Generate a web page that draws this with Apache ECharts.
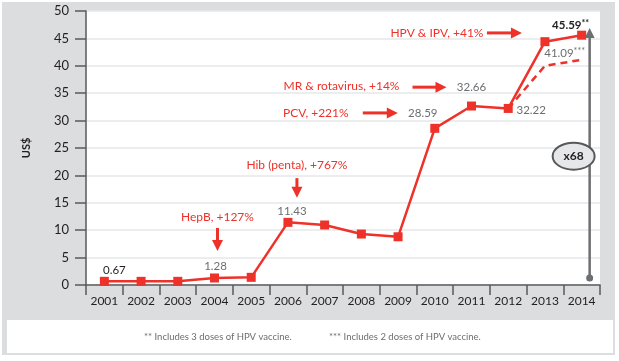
<!DOCTYPE html>
<html><head><meta charset="utf-8">
<script src="https://cdn.jsdelivr.net/npm/echarts@6/dist/echarts.min.js"></script>
<style>html,body{margin:0;padding:0;background:#fff}#c{width:619px;height:361px}</style>
</head><body><div id="c"></div>
<script>
const years = ['2001','2002','2003','2004','2005','2006','2007','2008','2009','2010','2011','2012','2013','2014'];
const costWith3DoseHPV = [0.67, 0.67, 0.67, 1.28, 1.4, 11.43, 10.95, 9.3, 8.8, 28.59, 32.66, 32.22, 44.4, 45.59];
const costWith2DoseHPV = [null, null, null, null, null, null, null, null, null, null, null, 32.22, 40.0, 41.09];
const yMin = 0, yMax = 50, yStep = 5;
const annotations = [
  {text: 'HepB, +127%', year: 3, dx: 3, v: 12.45, arrow: {dir: 'down', x: 3, from: 10.4, to: 6.2}},
  {text: 'Hib (penta), +767%', year: 5, dx: 9, v: 21.9, arrow: {dir: 'down', x: 9, from: 19.5, to: 15.9}},
  {text: 'PCV, +221%', year: 9, dx: -119, v: 31.4, arrow: {dir: 'right', from: -72, to: -37, v: 31.4}},
  {text: 'MR & rotavirus, +14%', year: 10, dx: -130, v: 36.3, arrow: {dir: 'right', from: -59, to: -25, v: 36.1}},
  {text: 'HPV & IPV, +41%', year: 12, dx: -108, v: 46.0, arrow: {dir: 'right', from: -58, to: -23, v: 46.0}}
];
const RED = '#ee3129', GRAY = '#6d6e71', DARK = '#231f20';
const FONT = 'Lato, "Open Sans", sans-serif';

// label offsets (pixels, relative to the point centre)
const labelCfg1 = {
  0: {off: [10, -11], color: DARK},
  3: {off: [1, -12], color: GRAY},
  5: {off: [4, -11], color: GRAY},
  9: {off: [-12, -15], color: GRAY},
  10: {off: [0, -19], color: GRAY},
  11: {off: [23, 2], color: GRAY},
  13: {off: [-11, -10], color: DARK, star: '**', bold: true}
};
const labelCfg2 = {13: {off: [-17, -7], color: GRAY, star: '***'}};

function buildData(vals, cfg) {
  return vals.map((v, i) => {
    const c = cfg[i];
    if (v == null) return null;
    if (!c) return {value: v};
    return {
      value: v,
      label: {
        show: true, position: 'inside', offset: c.off,
        formatter: '{a|' + v.toFixed(2) + '}' + (c.star ? '{b|' + c.star + '}' : ''),
        rich: {
          a: {color: c.color, fontSize: 11.5, fontFamily: FONT, fontWeight: c.bold ? 'bold' : 'normal'},
          b: {color: c.color, fontSize: 9, fontFamily: FONT, fontWeight: c.bold ? 'bold' : 'normal', verticalAlign: 'top', padding: [0,0,4,0]}
        }
      }
    };
  });
}

const chart = echarts.init(document.getElementById('c'), null, {renderer: 'canvas'});
const GRID = {left: 86, right: 19, top: 11, bottom: 76};
chart.setOption({
  animation: false,
  backgroundColor: '#ffffff',
  grid: {left: GRID.left, right: GRID.right, top: GRID.top, bottom: GRID.bottom, show: true, backgroundColor: '#ffffff', borderWidth: 0, z: 1},
  xAxis: {
    type: 'category', data: years, boundaryGap: true,
    axisLine: {lineStyle: {color: '#58595b', width: 1.5}},
    axisTick: {show: true, length: 10, lineStyle: {color: '#58595b', width: 1.5}},
    axisLabel: {color: DARK, fontSize: 12, fontFamily: FONT, margin: 10},
    z: 3
  },
  yAxis: {
    type: 'value', min: yMin, max: yMax, interval: yStep,
    name: 'US$', nameLocation: 'middle', nameGap: 54, nameRotate: 90,
    nameTextStyle: {color: DARK, fontSize: 11, fontWeight: 'bold', fontFamily: FONT},
    axisLine: {show: true, lineStyle: {color: '#58595b', width: 1.5}},
    axisTick: {show: true, length: 11, lineStyle: {color: '#58595b', width: 1.5}},
    axisLabel: {color: DARK, fontSize: 13, fontFamily: FONT, margin: 17},
    splitLine: {lineStyle: {color: '#e6e7e8', width: 1.5}},
    z: 3
  },
  graphic: [
    {type: 'rect', shape: {x: 2, y: 2, width: 613, height: 353}, style: {fill: '#dcdddf'}, z: -10, silent: true},
    {type: 'rect', shape: {x: 7, y: 320, width: 606, height: 33}, style: {fill: '#ffffff'}, z: -5, silent: true},
    {type: 'text', x: 144, y: 337, style: {text: '** Includes 3 doses of HPV vaccine.', fill: GRAY, fontSize: 9.5, fontFamily: FONT, verticalAlign: 'middle'}},
    {type: 'text', x: 329, y: 337, style: {text: '*** Includes 2 doses of HPV vaccine.', fill: GRAY, fontSize: 9.5, fontFamily: FONT, verticalAlign: 'middle'}}
  ],
  series: [
    {
      type: 'line', data: buildData(costWith2DoseHPV, labelCfg2), showSymbol: true, symbol: 'circle', symbolSize: 1,
      itemStyle: {color: 'rgba(0,0,0,0)'},
      lineStyle: {color: RED, width: 2.5, type: [7, 5]}, z: 4
    },
    {
      type: 'line', data: buildData(costWith3DoseHPV, labelCfg1), symbol: 'rect', symbolSize: 9,
      itemStyle: {color: RED}, lineStyle: {color: RED, width: 2.5}, z: 5
    }
  ]
});

function P(i, v) { return chart.convertToPixel({xAxisIndex: 0, yAxisIndex: 0}, [i, v]); }
function arrowHead(x, y, dir, color, len, half) {
  let pts;
  if (dir === 'down') pts = [[x - half, y - len], [x + half, y - len], [x, y]];
  else if (dir === 'up') pts = [[x - half, y + len], [x + half, y + len], [x, y]];
  else pts = [[x - len, y - half], [x - len, y + half], [x, y]];
  return {type: 'polygon', shape: {points: pts}, style: {fill: color}, z: 20, silent: true};
}
const g = chart.getOption().graphic[0].elements.slice();
const extra = [];
annotations.forEach(a => {
  const p = P(a.year, a.v);
  extra.push({type: 'text', x: p[0] + a.dx, y: p[1], style: {text: a.text, fill: RED, fontSize: 12, fontFamily: FONT, align: 'center', verticalAlign: 'middle'}, z: 20});
  const ar = a.arrow;
  if (ar.dir === 'down') {
    const x = P(a.year, 0)[0] + ar.x;
    const y1 = P(a.year, ar.from)[1], y2 = P(a.year, ar.to)[1];
    extra.push({type: 'line', shape: {x1: x, y1: y1, x2: x, y2: y2 - 8}, style: {stroke: RED, lineWidth: 3}, z: 20});
    extra.push(arrowHead(x, y2, 'down', RED, 11, 5.5));
  } else {
    const base = P(a.year, ar.v);
    const x1 = base[0] + ar.from, x2 = base[0] + ar.to, y = base[1];
    extra.push({type: 'line', shape: {x1: x1, y1: y, x2: x2 - 8, y2: y}, style: {stroke: RED, lineWidth: 3}, z: 20});
    extra.push(arrowHead(x2, y, 'right', RED, 11, 5.5));
  }
});
// gray growth arrow
const last = years.length - 1;
const gx = P(last, 0)[0] + 8;
const gyBottom = P(last, 1.3)[1], gyTop = P(last, 46.9)[1];
extra.push({type: 'line', shape: {x1: gx, y1: gyBottom, x2: gx, y2: gyTop + 8}, style: {stroke: GRAY, lineWidth: 2.5}, z: 20});
extra.push(arrowHead(gx, gyTop, 'up', GRAY, 10, 5));
extra.push({type: 'circle', shape: {cx: gx, cy: gyBottom, r: 3.5}, style: {fill: GRAY}, z: 20});
const ec = P(last, 23.5);
extra.push({type: 'ellipse', shape: {cx: ec[0] - 8, cy: ec[1], rx: 21, ry: 13.5}, style: {fill: '#e6e7e8', stroke: '#58595b', lineWidth: 2}, z: 21});
extra.push({type: 'text', x: ec[0] - 8, y: ec[1], style: {text: 'x68', fill: DARK, fontSize: 12, fontWeight: 'bold', fontFamily: FONT, align: 'center', verticalAlign: 'middle'}, z: 22});

chart.setOption({graphic: g.concat(extra)}, {replaceMerge: ['graphic']});
</script>
</body></html>
